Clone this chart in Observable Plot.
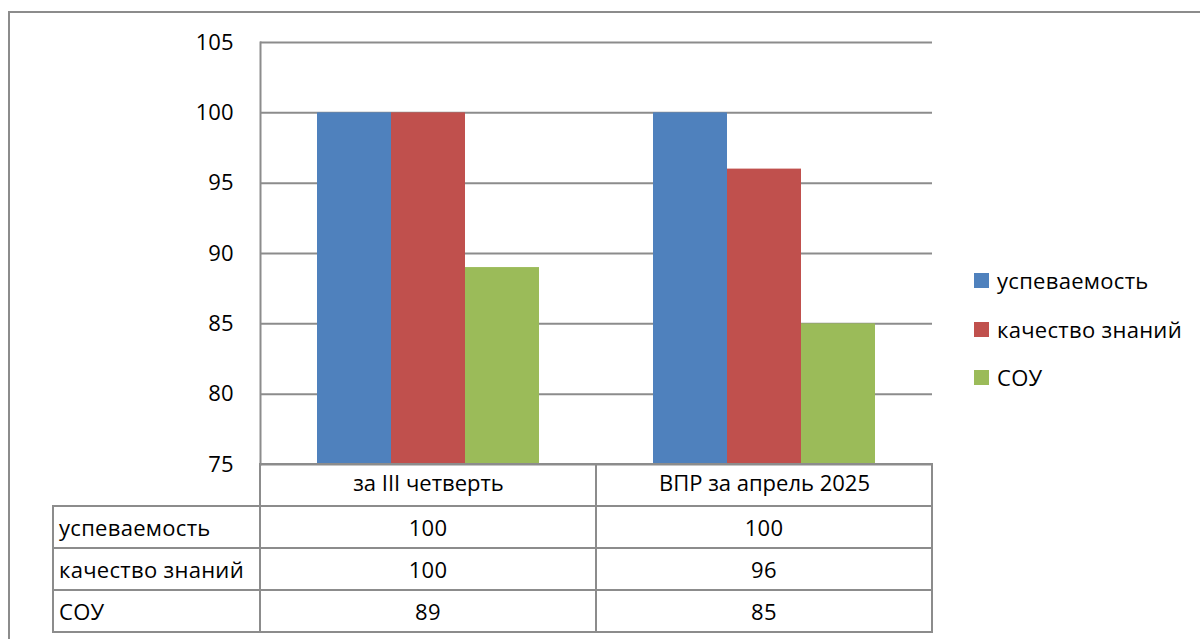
<!DOCTYPE html>
<html>
<head>
<meta charset="utf-8">
<script src="https://cdn.jsdelivr.net/npm/d3@7"></script>
<script src="https://cdn.jsdelivr.net/npm/@observablehq/plot@0.6"></script>
<style>
  html, body { margin: 0; padding: 0; background: #fff; }
  body { width: 1200px; height: 639px; position: relative; overflow: hidden; font-family: "Open Sans", sans-serif; color: #000; }
  #frame { position: absolute; left: 8px; top: 11px; width: 1300px; height: 800px; border: 2px solid #8c8c8c; box-sizing: border-box; }
  #chart { position: absolute; left: 0; top: 0; }
  #legend { position: absolute; left: 974px; top: 0; }
  .li { position: absolute; left: 0; white-space: nowrap; font-size: 22px; line-height: 24px; letter-spacing: 0.3px; }
  .sw { position: absolute; left: 0; width: 15px; height: 15px; }
  .li span.t { position: absolute; left: 23px; top: 0; }
  #table { position: absolute; left: 52px; top: 463px; border-collapse: collapse; table-layout: fixed; font-size: 22px; letter-spacing: 0.3px; }
  #table td { border: 2px solid #8c8c8c; height: 40px; padding: 0; text-align: center; line-height: 40px; }
  #table td.rl { text-align: left; padding-left: 5px; }
  #table tr.hdr td.empty { border-top: none; border-left: none; }
</style>
</head>
<body>
<div id="frame"></div>
<div id="chart"></div>
<div id="legend"></div>
<table id="table"></table>
<script>
const categories = ["за III четверть", "ВПР за апрель 2025"];
const seriesNames = ["успеваемость", "качество знаний", "СОУ"];
const uspevaemost = [100, 100];
const kachestvo = [100, 96];
const sou = [89, 85];
const seriesValues = [uspevaemost, kachestvo, sou];
const colors = ["#4F81BD", "#C0504D", "#9BBB59"];
const yDomain = [75, 105];
const yTicks = [75, 80, 85, 90, 95, 100, 105];

const data = [];
categories.forEach((c, i) => {
  seriesNames.forEach((s, j) => {
    data.push({category: c, series: s, value: seriesValues[j][i]});
  });
});

const grid = "#8c8c8c";
const chart = Plot.plot({
  width: 1200,
  height: 639,
  marginTop: 42,
  marginBottom: 175,
  marginLeft: 260,
  marginRight: 268,
  style: {fontFamily: "'Open Sans', sans-serif", fontSize: "22px", color: "#000", background: "transparent"},
  fx: {domain: categories, padding: 0, label: null},
  x: {domain: seriesNames, paddingInner: 0, paddingOuter: 0.75, axis: null},
  y: {domain: yDomain, label: null},
  color: {domain: seriesNames, range: colors},
  marks: [
    Plot.gridY(yTicks, {stroke: grid, strokeOpacity: 1, strokeWidth: 2}),
    Plot.barY(data, {fx: "category", x: "series", y1: yDomain[0], y2: "value", fill: "series", inset: 0}),
    Plot.frame({anchor: "left", fx: () => categories[0], stroke: grid, strokeWidth: 2, strokeOpacity: 1}),
    Plot.axisY(yTicks, {anchor: "left", tickSize: 0, tickPadding: 27, fontSize: 22, label: null, fill: "#000"}),
    Plot.axisFx({anchor: "bottom", tickSize: 0, tickPadding: 11, fontSize: 22, label: null, fill: "#000"})
  ]
});
document.getElementById("chart").appendChild(chart);

// legend
const legend = document.getElementById("legend");
const legendY = [280, 329, 377];
seriesNames.forEach((s, j) => {
  const item = document.createElement("div");
  item.className = "li";
  item.style.top = (legendY[j] - 12) + "px";
  const sw = document.createElement("div");
  sw.className = "sw";
  sw.style.background = colors[j];
  sw.style.top = "5px";
  const t = document.createElement("span");
  t.className = "t";
  t.textContent = s;
  item.appendChild(sw);
  item.appendChild(t);
  legend.appendChild(item);
});

// data table
const table = document.getElementById("table");
const colgroup = document.createElement("colgroup");
[207, 336, 336].forEach(w => { const c = document.createElement("col"); c.style.width = w + "px"; colgroup.appendChild(c); });
table.appendChild(colgroup);
const hdr = document.createElement("tr");
hdr.className = "hdr";
const e = document.createElement("td"); e.className = "empty"; hdr.appendChild(e);
categories.forEach(() => { const td = document.createElement("td"); hdr.appendChild(td); });
table.appendChild(hdr);
seriesNames.forEach((s, j) => {
  const tr = document.createElement("tr");
  const l = document.createElement("td"); l.className = "rl"; l.textContent = s; tr.appendChild(l);
  seriesValues[j].forEach(v => { const td = document.createElement("td"); td.textContent = v; tr.appendChild(td); });
  table.appendChild(tr);
});
</script>
</body>
</html>
